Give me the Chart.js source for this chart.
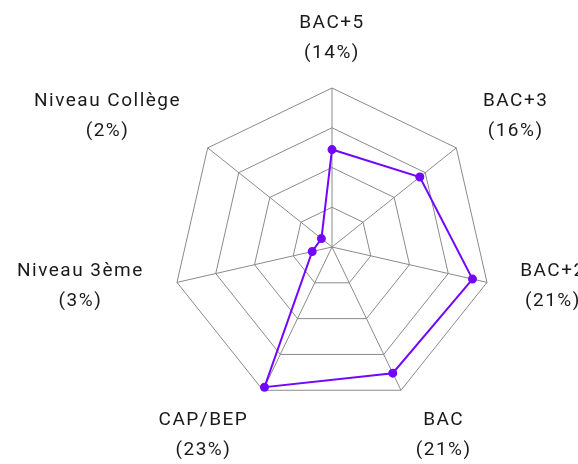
<!DOCTYPE html>
<html>
<head>
<meta charset="utf-8">
<script src="https://cdn.jsdelivr.net/npm/chart.js@4/dist/chart.umd.min.js"></script>
<style>
  html, body { margin: 0; padding: 0; background: #fff; overflow: hidden; }
</style>
</head>
<body>
<canvas id="niveau_radar" width="578" height="464"></canvas>
<script>
// niveaux de diplome
var levels = ['BAC+5', 'BAC+3', 'BAC+2', 'BAC', 'CAP/BEP', 'Niveau 3ème', 'Niveau Collège'];
var shares = ['(14%)', '(16%)', '(21%)', '(21%)', '(23%)', '(3%)', '(2%)'];
var values = [14.4, 16.6, 21.3, 20.7, 23, 3, 2];

var purple = '#7306ff';

// labels on two lines, centered, placed outside the polygon
var labelPlugin = {
  id: 'niveauLabels',
  afterDraw: function (chart) {
    var scale = chart.scales.r;
    var ctx = chart.ctx;
    var r = scale.drawingArea;
    ctx.save();
    ctx.font = '19px Roboto';
    ctx.letterSpacing = '1.5px';
    ctx.fillStyle = '#1a1a1a';
    ctx.textAlign = 'center';
    ctx.textBaseline = 'middle';
    levels.forEach(function (name, i) {
      var lines = [name, shares[i]];
      var w = Math.max(ctx.measureText(lines[0]).width, ctx.measureText(lines[1]).width);
      var angle = scale.getIndexAngle(i) - Math.PI / 2;
      var cos = Math.cos(angle);
      var sin = Math.sin(angle);
      var p = scale.getPointPosition(i, r + 34);
      var x = p.x;
      if (cos > 0.05) x += w / 2;
      else if (cos < -0.05) x -= w / 2;
      // side labels sit level with their vertex, the others above / below
      var k = Math.abs(sin) > 0.5 ? r + 50 : r + 16;
      var y = scale.yCenter + sin * k;
      ctx.fillText(lines[0], x, y - 15);
      ctx.fillText(lines[1], x, y + 15);
    });
    ctx.restore();
  }
};

var ctx = document.getElementById('niveau_radar').getContext('2d');
var chart = new Chart(ctx, {
  type: 'radar',
  data: {
    labels: levels,
    datasets: [{
      data: values,
      borderColor: purple,
      backgroundColor: purple,
      pointBackgroundColor: purple,
      pointBorderColor: purple,
      borderWidth: 2,
      pointRadius: 3.5,
      fill: false
    }]
  },
  options: {
    responsive: false,
    animation: false,
    layout: {
      padding: { left: 173, right: 87, top: 88, bottom: 58 }
    },
    plugins: {
      legend: { display: false },
      tooltip: { enabled: false }
    },
    scales: {
      r: {
        min: 0,
        max: 23.5,
        ticks: { display: false, stepSize: 5.875 },
        grid: { color: '#8a8a8a', lineWidth: 1 },
        angleLines: { color: '#8a8a8a', lineWidth: 1 },
        pointLabels: { display: false }
      }
    }
  },
  plugins: [labelPlugin]
});
</script>
</body>
</html>
